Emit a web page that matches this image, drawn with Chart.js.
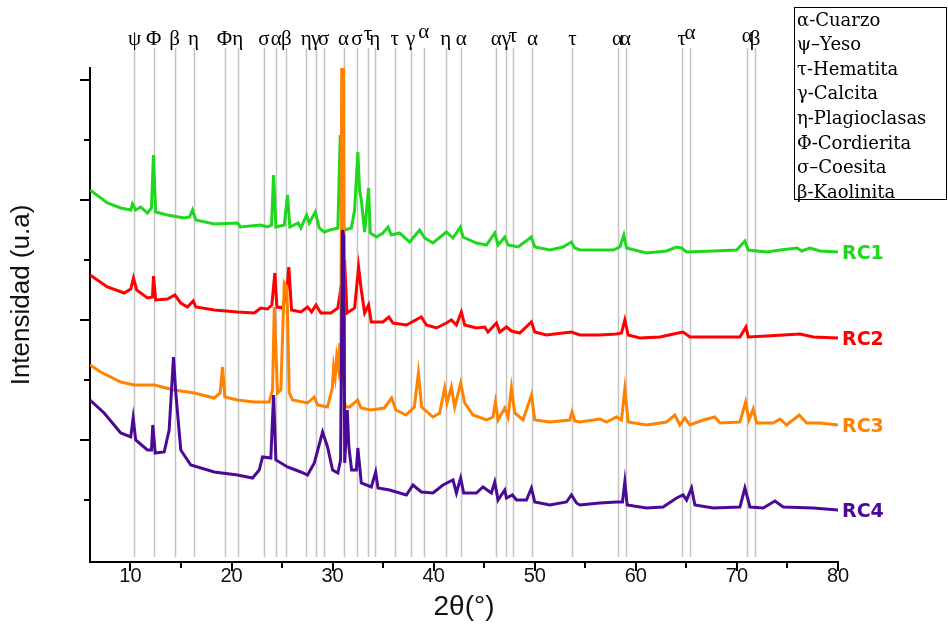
<!DOCTYPE html>
<html lang="es">
<head>
<meta charset="UTF-8">
<title>DRX RC1 - RC4</title>
<script src="https://cdn.jsdelivr.net/npm/chart.js"></script>
<style>
  html, body { margin: 0; padding: 0; background: #fff; }
  #wrap { width: 948px; height: 628px; }
</style>
</head>
<body>
<div id="wrap"><canvas id="xrd" width="948" height="628"></canvas></div>
<script>
// 2θ (°), intensidad (u.a., ya desplazada por muestra)
const rc1 = [
  [6.0,372],[7.72,359],[9.04,354],[10.03,352],[10.2,358],[10.52,352],[11.02,355],[11.68,349],[12.08,354],[12.28,407],
  [12.5,350],[13.66,347],[15.32,344],[15.84,345],[16.14,352],[16.47,342],[18.29,338],[20.59,339],[20.89,335],[22.87,337],
  [23.56,335],[23.96,337],[24.16,387],[24.39,335],[25.22,337],[25.54,367],[25.77,335],[26.6,339],[26.86,334],[27.43,347],
  [27.69,339],[28.29,350],[28.68,334],[29.18,330],[29.7,332],[30.52,334],[30.76,427],[30.92,342],[31.19,332],[31.85,334],
  [32.18,352],[32.5,410],[32.67,372],[32.84,362],[33.17,330],[33.56,374],[33.73,329],[34.33,325],[34.98,329],[35.48,335],
  [35.81,327],[36.63,329],[37.62,320],[38.61,332],[39.11,324],[39.93,319],[41.26,330],[41.91,324],[42.64,335],[42.9,325],
  [44.23,319],[45.22,317],[46.04,329],[46.37,317],[47.03,325],[47.36,317],[48.35,315],[49.67,325],[50.0,315],[51.49,312],
  [52.8,315],[53.63,320],[53.96,314],[54.46,312],[57.75,312],[58.42,315],[58.81,327],[59.08,314],[61.06,309],[63.04,311],
  [64.03,315],[64.52,314],[65.02,310],[67.65,311],[69.97,312],[70.79,321],[71.12,312],[72.94,310],[74.26,312],[75.97,314],
  [76.41,311],[77.23,314],[78.22,311],[80.0,310]
];
const rc2 = [
  [6.0,287],[7.72,275],[9.38,269],[10.03,273],[10.3,284],[10.62,272],[11.68,264],[12.18,265],[12.28,286],[12.5,262],
  [13.66,263],[14.39,267],[14.98,259],[15.64,255],[16.21,261],[16.47,255],[18.29,252],[20.59,250],[22.25,249],[22.9,254],
  [23.56,253],[23.99,257],[24.29,289],[24.49,255],[25.05,254],[25.48,272],[25.67,295],[25.94,252],[26.86,250],[27.52,255],
  [27.92,250],[28.35,257],[28.84,249],[29.83,249],[30.52,254],[30.76,270],[30.96,255],[31.19,302],[31.42,249],[32.18,254],
  [32.57,295],[32.84,272],[33.17,249],[33.56,257],[33.83,240],[34.98,240],[35.57,245],[35.97,239],[37.3,237],[38.78,245],
  [39.28,237],[40.27,234],[41.26,239],[41.75,242],[42.25,237],[42.74,250],[43.07,237],[44.23,234],[45.05,235],[45.37,230],
  [46.21,239],[46.53,230],[47.2,235],[47.69,231],[48.51,229],[49.67,240],[50.0,230],[51.16,227],[52.8,229],[53.63,230],
  [54.46,227],[56.44,227],[58.09,228],[58.58,229],[58.91,242],[59.24,227],[60.4,224],[62.38,225],[64.19,229],[64.68,230],
  [65.35,225],[67.65,225],[70.3,225],[70.89,235],[71.12,225],[72.94,226],[76.24,228],[77.55,225],[80.0,224]
];
const rc3 = [
  [6.0,197],[7.06,190],[9.04,180],[10.37,177],[12.35,177],[14.33,172],[16.31,169],[18.29,164],[18.88,169],[19.11,195],
  [19.34,165],[20.59,162],[22.25,160],[23.73,160],[24.06,172],[24.23,255],[24.55,169],[24.88,172],[25.22,279],[25.48,275],
  [25.71,169],[26.04,162],[27.52,159],[28.19,165],[28.51,157],[29.5,155],[29.97,174],[30.1,195],[30.25,185],[30.4,205],
  [30.55,195],[30.7,219],[30.82,180],[30.9,494],[31.08,494],[31.18,160],[31.3,155],[31.68,155],[32.48,162],[32.8,154],[33.79,152],
  [35.12,154],[35.84,164],[36.27,152],[37.26,147],[38.09,155],[38.49,189],[38.81,155],[39.93,145],[40.59,149],[41.09,174],
  [41.32,159],[41.75,175],[42.08,155],[42.67,179],[43.07,159],[43.89,147],[45.22,142],[45.87,145],[46.11,160],[46.37,142],
  [47.03,154],[47.36,145],[47.69,174],[48.02,149],[48.84,142],[49.67,167],[50.0,142],[51.49,140],[53.47,142],[53.69,150],
  [53.96,141],[54.46,140],[56.44,143],[57.1,140],[58.09,145],[58.58,142],[58.91,173],[59.24,140],[61.06,137],[63.04,140],
  [63.86,147],[64.36,137],[64.85,144],[65.35,137],[66.66,142],[67.82,145],[68.32,139],[70.3,140],[70.86,160],[71.19,142],
  [71.61,153],[71.95,139],[73.6,139],[74.26,143],[74.92,137],[76.17,147],[76.9,139],[78.22,139],[80.0,137]
];
const rc4 = [
  [6.0,162],[7.4,149],[9.04,129],[10.03,125],[10.27,144],[10.52,122],[11.68,112],[12.08,112],[12.21,137],[12.45,109],
  [13.34,110],[13.83,132],[14.26,205],[14.49,169],[14.98,112],[15.97,97],[18.29,90],[20.59,87],[22.08,84],[22.74,92],
  [23.07,105],[23.89,104],[24.16,167],[24.39,102],[25.54,95],[26.86,90],[27.52,87],[28.19,99],[29.01,130],[29.5,115],
  [30.0,92],[30.52,89],[30.79,102],[30.98,332],[31.1,325],[31.2,99],[31.45,152],[31.61,115],[31.88,92],[32.35,92],[32.5,114],
  [32.84,79],[33.83,75],[34.26,90],[34.49,74],[35.64,72],[37.3,67],[37.95,77],[38.78,70],[39.93,69],[40.92,77],
  [41.91,82],[42.25,69],[42.67,84],[42.97,69],[44.23,69],[44.88,75],[45.71,69],[46.04,80],[46.37,62],[47.03,72],
  [47.2,64],[47.79,67],[48.19,62],[49.18,62],[49.67,74],[50.0,60],[51.49,57],[53.14,60],[53.63,67],[54.13,59],
  [54.46,57],[56.44,59],[58.09,60],[58.68,60],[58.91,80],[59.14,57],[61.06,54],[62.7,55],[64.03,64],[64.68,67],
  [65.02,62],[65.51,74],[65.84,57],[67.65,54],[70.3,55],[70.79,74],[71.29,55],[72.6,54],[73.76,61],[74.58,55],
  [77.55,54],[80.0,52]
];

const seriesNames = ['RC1', 'RC2', 'RC3', 'RC4'];
const seriesColors = ['#1ed81e', '#ff0000', '#ff8200', '#4b0a96'];

// líneas de referencia de fases (2θ) y su símbolo
const refPos = [10.4, 12.3, 14.36, 16.24, 19.31, 20.62, 23.2, 24.43, 25.42, 27.4, 28.32, 29.11, 31.09, 32.41, 33.5, 34.16,
  36.14, 37.72, 39.01, 41.19, 42.74, 46.2, 47.19, 47.85, 49.77, 53.73, 58.19, 58.98, 64.55, 65.35, 71.02, 71.81];
const refLabels = ['ψ', 'Φ', 'β', 'η', 'Φ', 'η', 'σ', 'α', 'β', 'η', 'γ', 'σ', 'α', 'σ', 'τ', 'η',
  'τ', 'γ', 'α', 'η', 'α', 'α', 'γ', 'τ', 'α', 'τ', 'α', 'α', 'τ', 'α', 'α', 'β'];

const xTicks = [10, 20, 30, 40, 50, 60, 70, 80];
const xMinorTicks = [15, 25, 35, 45, 55, 65, 75];
const yTicks = [482, 362, 242, 122];
const yMinorTicks = [422, 302, 182, 62];

const legendItems = ['α-Cuarzo', 'ψ–Yeso', 'τ-Hematita', 'γ-Calcita', 'η-Plagioclasas', 'Φ-Cordierita', 'σ–Coesita', 'β-Kaolinita'];

const series = [rc1, rc2, rc3, rc4];

// a few symbols sit higher than the rest
const raised = { 14: 5, 18: 7, 23: 3, 29: 6, 30: 3 };

const decor = {
  id: 'decor',
  beforeDatasetsDraw(chart) {
    const ctx = chart.ctx;
    const xs = chart.scales.x;
    ctx.save();
    ctx.strokeStyle = '#c3c3c3';
    ctx.lineWidth = 1.5;
    refPos.forEach(p => {
      const x = Math.round(xs.getPixelForValue(p)) + 0.5;
      ctx.beginPath();
      ctx.moveTo(x, 48);
      ctx.lineTo(x, 557);
      ctx.stroke();
    });
    ctx.fillStyle = '#000';
    ctx.font = '21px "Liberation Serif", "DejaVu Serif", serif';
    ctx.textAlign = 'center';
    ctx.textBaseline = 'alphabetic';
    refLabels.forEach((t, i) => {
      const x = xs.getPixelForValue(refPos[i]);
      ctx.fillText(t, x, 45 - (raised[i] || 0));
    });
    ctx.restore();
  },
  afterDraw(chart) {
    const ctx = chart.ctx;
    const xs = chart.scales.x;
    const ys = chart.scales.y;
    const area = chart.chartArea;
    ctx.save();
    // tick marks
    ctx.strokeStyle = '#000';
    ctx.lineWidth = 2;
    const tickX = (vals, len) => vals.forEach(v => {
      const x = Math.round(xs.getPixelForValue(v));
      ctx.beginPath();
      ctx.moveTo(x, area.bottom);
      ctx.lineTo(x, area.bottom + len);
      ctx.stroke();
    });
    const tickY = (vals, len) => vals.forEach(v => {
      const y = Math.round(ys.getPixelForValue(v));
      ctx.beginPath();
      ctx.moveTo(area.left, y);
      ctx.lineTo(area.left - len, y);
      ctx.stroke();
    });
    tickX(xTicks, 9);
    tickX(xMinorTicks, 6);
    tickY(yTicks, 10);
    tickY(yMinorTicks, 6);

    // y axis title, sits a little above the middle in the original
    ctx.save();
    ctx.translate(22, 295);
    ctx.rotate(-Math.PI / 2);
    ctx.fillStyle = '#111';
    ctx.font = '26px "Liberation Sans", Arial, sans-serif';
    ctx.textAlign = 'center';
    ctx.textBaseline = 'middle';
    ctx.fillText('Intensidad (u.a)', 0, 0);
    ctx.restore();

    // sample names at the end of each curve
    ctx.font = 'bold 19px "DejaVu Sans", Verdana, sans-serif';
    ctx.textAlign = 'left';
    ctx.textBaseline = 'middle';
    series.forEach((s, i) => {
      const last = s[s.length - 1];
      ctx.fillStyle = seriesColors[i];
      ctx.fillText(seriesNames[i], area.right + 4, ys.getPixelForValue(last[1]) + 2);
    });

    // phase legend box
    ctx.fillStyle = '#fff';
    ctx.fillRect(794, 7, 153, 192);
    ctx.strokeStyle = '#000';
    ctx.lineWidth = 1;
    ctx.strokeRect(794.5, 7.5, 152, 192);
    ctx.fillStyle = '#000';
    ctx.font = '18px "DejaVu Serif", "Liberation Serif", serif';
    ctx.textBaseline = 'middle';
    legendItems.forEach((t, i) => {
      ctx.fillText(t, 797, 21 + i * 24.6);
    });
    ctx.restore();
  }
};

new Chart(document.getElementById('xrd'), {
  type: 'line',
  data: {
    datasets: series.map((s, i) => ({
      label: seriesNames[i],
      data: s.map(p => ({ x: p[0], y: p[1] })),
      borderColor: seriesColors[i],
      borderWidth: 3,
      pointRadius: 0,
      tension: 0,
      fill: false,
      order: 3 - i
    }))
  },
  options: {
    responsive: false,
    animation: false,
    devicePixelRatio: 1,
    layout: { padding: { top: 68, right: 110, left: 0, bottom: 0 } },
    plugins: { legend: { display: false }, tooltip: { enabled: false } },
    scales: {
      x: {
        type: 'linear',
        min: 6,
        max: 80,
        afterBuildTicks: s => { s.ticks = xTicks.map(v => ({ value: v })); },
        afterFit: s => { s.height = 66; },
        grid: { display: false, drawTicks: false },
        border: { display: true, color: '#000', width: 2 },
        ticks: {
          color: '#111',
          padding: 2,
          maxRotation: 0,
          font: { family: '"Liberation Sans", Arial, sans-serif', size: 20 }
        },
        title: {
          display: true,
          text: '2θ(°)',
          color: '#111',
          padding: { top: 2, bottom: 4 },
          font: { family: '"Liberation Sans", Arial, sans-serif', size: 28 }
        }
      },
      y: {
        type: 'linear',
        min: 0,
        max: 494,
        afterFit: s => { s.width = 90; },
        grid: { display: false, drawTicks: false },
        border: { display: true, color: '#000', width: 2 },
        ticks: { display: false },
        title: { display: false }
      }
    }
  },
  plugins: [decor]
});
</script>
</body>
</html>
